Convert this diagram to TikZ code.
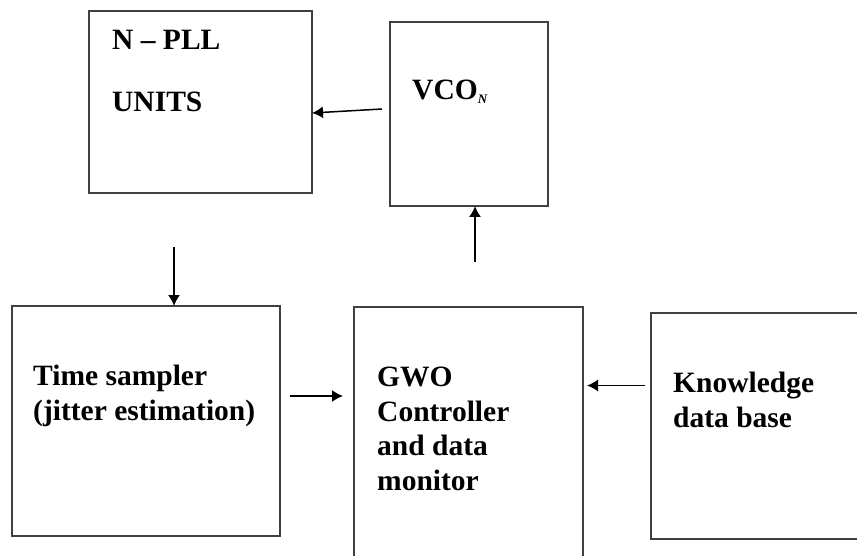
\documentclass[tikz,border=0pt]{standalone}
\usepackage{fontspec}
\setmainfont{Liberation Serif}
\usetikzlibrary{arrows.meta}

\begin{document}
\begin{tikzpicture}[x=1pt,y=-1pt,
  block/.style={draw=black!75, line width=1.9pt, inner sep=0pt, outer sep=0pt},
  label/.style={anchor=north west, inner sep=0pt, align=left,
    font=\fontsize{29.5}{34.5}\selectfont\bfseries},
  arrow/.style={line width=1.5pt, -{Latex[length=11pt,width=12pt]}}]

\useasboundingbox (0,0) rectangle (857,556);
\clip (0,0) rectangle (857,556);

% blocks
\node[block, minimum width=223pt, minimum height=182pt] (npll) at (200.5,102) {};
\node[block, minimum width=158pt, minimum height=184pt] (vco)  at (469,114) {};
\node[block, minimum width=268pt, minimum height=230pt] (time) at (146,421) {};
\node[block, minimum width=229pt, minimum height=263pt] (gwo)  at (468.5,438.5) {};
\node[block, minimum width=219pt, minimum height=226pt] (kb)   at (760.5,426) {};

% texts
\node[label] (npllText) at (112,30) {N -- PLL\\[27pt]UNITS};
\node[label] (vcoText)  at (412,80) {VCO\raisebox{-4pt}{\fontsize{13}{13}\selectfont\itshape N}};
\node[label] (timeText) at (33,365) {Time sampler\\(jitter estimation)};
\node[label] (gwoText)  at (377,367) {GWO\\Controller\\and data\\monitor};
\node[label] (kbText)   at (673,372) {Knowledge\\data base};

% free ends
\coordinate (vcoOut)   at (382,109);
\coordinate (gwoUp)    at (475,262);
\coordinate (npllDown) at (174,247);
\coordinate (timeOut)  at (290,396);
\coordinate (kbOut)    at (645,385.5);

% connectors
\draw[arrow] (vcoOut) -- ([yshift=-11pt]npll.east);
\draw[arrow] (gwoUp) -- (gwoUp |- vco.south);
\draw[arrow] (npllDown) -- (npllDown |- time.north);
\draw[arrow, shorten >=11pt] (timeOut) -- (timeOut -| gwo.west);
\draw[arrow, shorten >=4pt] (kbOut) -- (kbOut -| gwo.east);

\end{tikzpicture}
\end{document}
